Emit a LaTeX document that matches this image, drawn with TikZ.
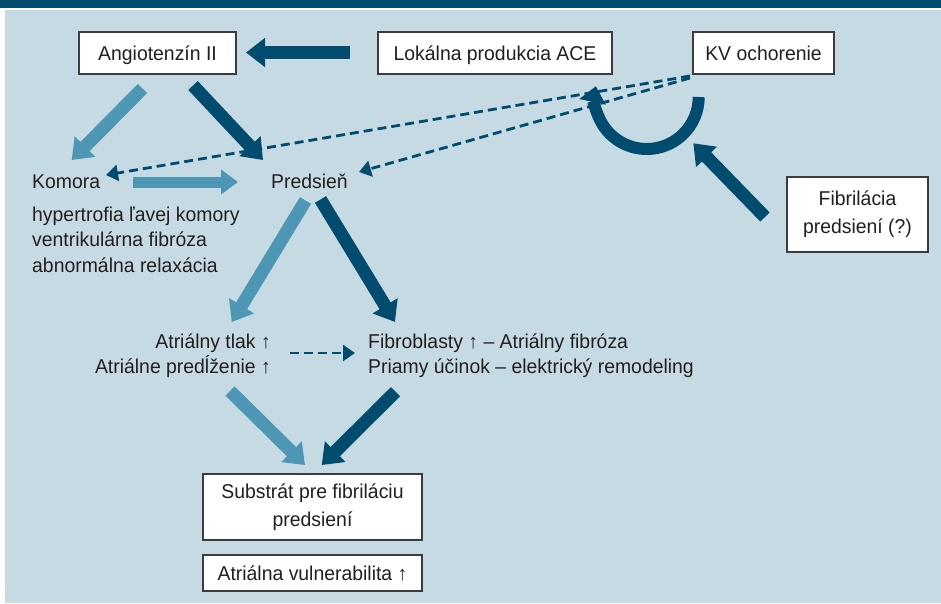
\documentclass[tikz,border=0pt]{standalone}
\usepackage{fontspec}
\setmainfont{Liberation Sans}[FakeStretch=0.97]
\usetikzlibrary{arrows.meta}
\definecolor{dk}{RGB}{0,75,110}
\definecolor{lt}{RGB}{78,151,180}
\definecolor{bg}{RGB}{198,218,228}
\definecolor{tx}{RGB}{35,31,32}
\definecolor{bd}{RGB}{60,60,60}
\begin{document}
\begin{tikzpicture}[x=1pt,y=-1pt,
  every node/.style={text=tx, font=\fontsize{20}{28}\selectfont, inner sep=0pt},
  box/.style={draw=bd, line width=1.3pt, fill=white, align=center},
  onebox/.style={box, text height=14.3pt, text depth=0pt},
  lbl/.style={anchor=base west},
  darrow/.style={dk, line width=13pt, -{Triangle[length=19pt,width=28pt]}},
  larrow/.style={lt, line width=13pt, -{Triangle[length=19pt,width=28pt]}},
  dasharrow/.style={dk, line width=2.8pt, dash pattern=on 9pt off 5pt, -{Triangle[length=12pt,width=16pt]}},
]
\useasboundingbox (0,0) rectangle (941,603);
\fill[white] (0,0) rectangle (941,603);
\fill[dk] (0,0) rectangle (941,7.5);
\fill[bg] (4.5,9.5) rectangle (941,603);

% boxes
\node[onebox, minimum width=157pt, minimum height=42pt] (ang) at (157.5,53) {Angiotenzín II};
\node[onebox, minimum width=234pt, minimum height=42pt] (ace) at (495,53) {Lokálna produkcia ACE};
\node[onebox, minimum width=141pt, minimum height=42pt] (kv) at (763.5,53) {KV ochorenie};
\node[box, minimum width=141pt, minimum height=75pt] (fib) at (857.5,214.5) {Fibrilácia\\predsiení (?)};
\node[box, minimum width=219pt, minimum height=66pt] (sub) at (312.5,507) {Substrát pre fibriláciu\\predsiení};
\node[onebox, minimum width=219pt, minimum height=36pt] (vul) at (312.5,573) {Atriálna vulnerabilita ↑};

% free texts (base anchor of a multi-line node = baseline of its last line)
\node[lbl] (kom) at (32,188) {Komora};
\node[lbl, align=left, font=\fontsize{20}{25.5}\selectfont] (komtxt) at (32,272) {hypertrofia ľavej komory\\ventrikulárna fibróza\\abnormálna relaxácia};
\node[lbl] (pred) at (271,188) {Predsieň};
\node[anchor=base east, align=right, font=\fontsize{20}{25}\selectfont] (atl) at (271,373) {Atriálny tlak ↑\\Atriálne predĺženie ↑};
\node[lbl, align=left, font=\fontsize{20}{25}\selectfont] (fibro) at (368,373) {Fibroblasty ↑ – Atriálny fibróza\\Priamy účinok – elektrický remodeling};

% arrow end points
\coordinate (a1s) at (350,52.5);   \coordinate (a1e) at (246,52.5);
\coordinate (a2s) at (142.5,88.5); \coordinate (a2e) at (71.7,160);
\coordinate (a3s) at (193,85.5);   \coordinate (a3e) at (263,160);
\coordinate (a4s) at (133,182);    \coordinate (a4e) at (238,182);
\coordinate (a5s) at (305.5,200.5);\coordinate (a5e) at (231.7,322);
\coordinate (a6s) at (320.5,199.5);\coordinate (a6e) at (395,322);
\coordinate (a7s) at (230,391);    \coordinate (a7e) at (305,465);
\coordinate (a8s) at (395.5,391.7);\coordinate (a8e) at (321.7,465);
\coordinate (a9s) at (765,217);    \coordinate (a9e) at (693.3,143.3);
\coordinate (arcs) at (698.7,97);
\coordinate (kvs1) at (690,76);    \coordinate (kvs2) at (690,78);
\coordinate (d1e) at (106,175);    \coordinate (d2e) at (359,172);
\coordinate (d3s) at (290,353);    \coordinate (d3e) at (355,353);

% dashed connectors
\draw[dasharrow] (kvs1) -- (d1e);
\draw[dasharrow] (kvs2) -- (d2e);
\draw[dasharrow] (d3s) -- (d3e);

% block arrows
\draw[darrow] (a1s) -- (a1e);
\draw[larrow] (a2s) -- (a2e);
\draw[darrow] (a3s) -- (a3e);
\draw[larrow, line width=11pt, -{Triangle[length=17pt,width=24pt]}] (a4s) -- (a4e);
\draw[larrow] (a5s) -- (a5e);
\draw[darrow] (a6s) -- (a6e);
\draw[larrow] (a7s) -- (a7e);
\draw[darrow] (a8s) -- (a8e);
\draw[darrow] (a9s) -- (a9e);
\draw[dk, line width=12pt, -{Triangle[length=16pt,width=26pt]}] (arcs) arc[start angle=0, end angle=192, radius=52];
\end{tikzpicture}
\end{document}
